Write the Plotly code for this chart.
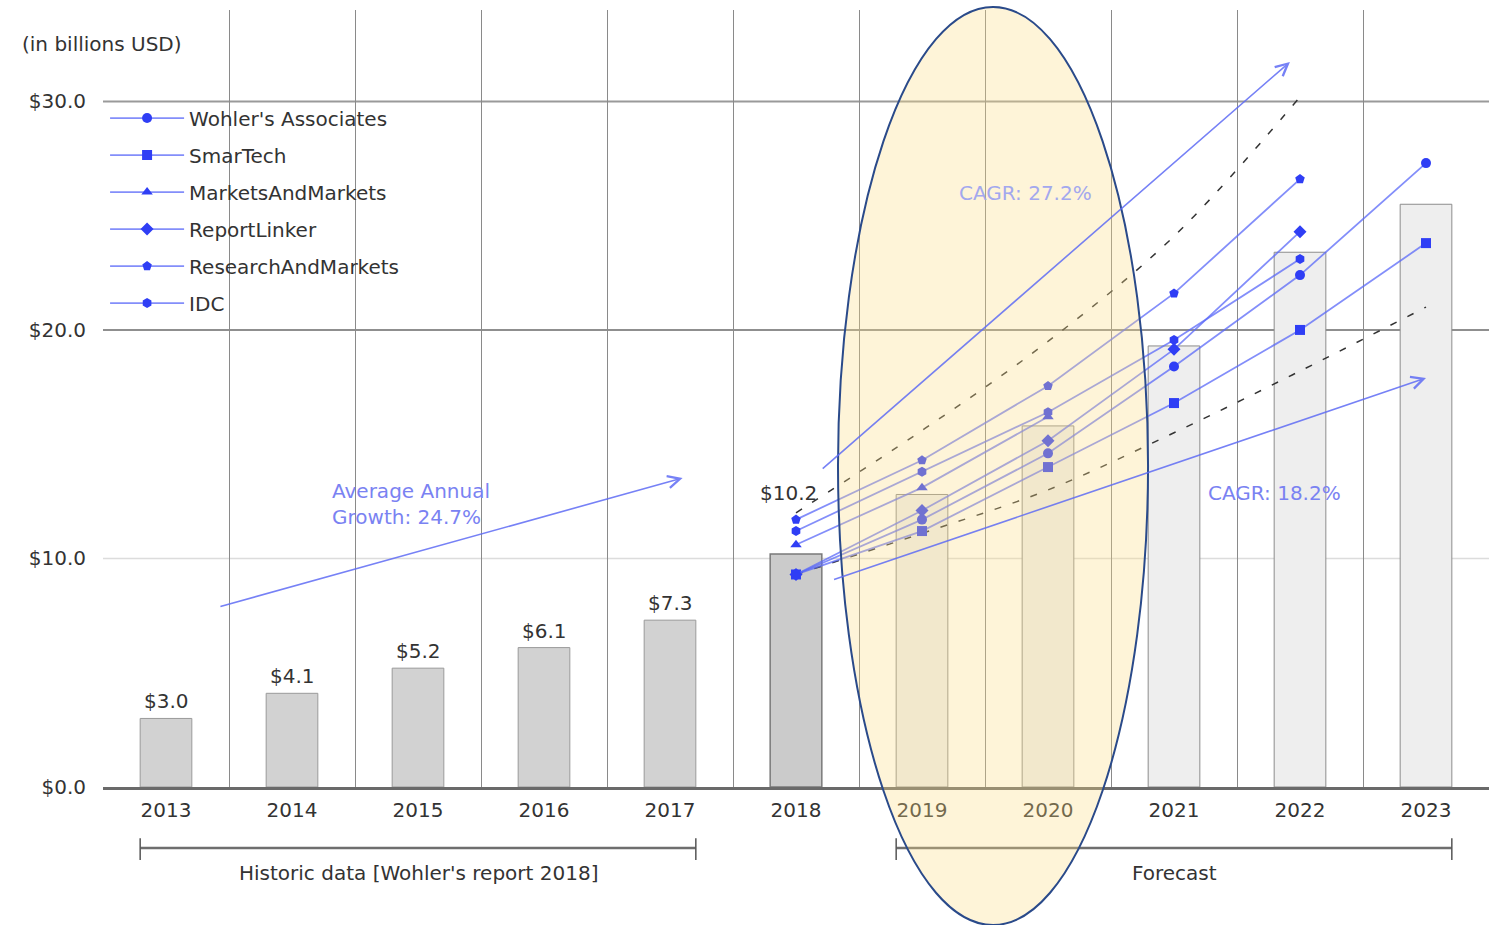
import plotly.graph_objects as go

# ---------------- data ----------------
hist_years = [2013, 2014, 2015, 2016, 2017]
hist_values = [3.0, 4.1, 5.2, 6.1, 7.3]
base_years = [2018]
base_values = [10.2]
forecast_years = [2019, 2020, 2021, 2022, 2023]
forecast_values = [12.8, 15.8, 19.3, 23.4, 25.5]

all_years = [2013, 2014, 2015, 2016, 2017, 2018, 2019, 2020, 2021, 2022, 2023]

wohlers_years = [2018, 2019, 2020, 2021, 2022, 2023]
wohlers_values = [9.3, 11.7, 14.6, 18.4, 22.4, 27.3]
smartech_years = [2018, 2019, 2020, 2021, 2022, 2023]
smartech_values = [9.3, 11.2, 14.0, 16.8, 20.0, 23.8]
mam_years = [2018, 2019, 2020]
mam_values = [10.6, 13.1, 16.2]
reportlinker_years = [2018, 2019, 2020, 2021, 2022]
reportlinker_values = [9.3, 12.1, 15.15, 19.15, 24.3]
ram_years = [2018, 2019, 2020, 2021, 2022]
ram_values = [11.7, 14.3, 17.55, 21.6, 26.6]
idc_years = [2018, 2019, 2020, 2021, 2022]
idc_values = [11.2, 13.8, 16.4, 19.56, 23.1]

cagr_high_years = [2018, 2019, 2020, 2021, 2022]
cagr_high_values = [12.0, 15.6, 19.5, 24.1, 30.2]
cagr_low_years = [2018, 2019, 2020, 2021, 2022, 2023]
cagr_low_values = [9.3, 11.1, 13.0, 15.5, 18.2, 21.0]

y_ticks = [0, 10, 20, 30]
y_ticktext = ["$0.0", "$10.0", "$20.0", "$30.0"]

series = [
    ("Wohler's Associates", wohlers_years, wohlers_values, "circle"),
    ("SmarTech", smartech_years, smartech_values, "square"),
    ("MarketsAndMarkets", mam_years, mam_values, "triangle-up"),
    ("ReportLinker", reportlinker_years, reportlinker_values, "diamond"),
    ("ResearchAndMarkets", ram_years, ram_values, "pentagon"),
    ("IDC", idc_years, idc_values, "hexagon"),
]

# ---------------- style ----------------
FONT = "DejaVu Sans"
TXT = "#333333"
BLUE_LINE = "rgba(90,104,248,0.75)"
BLUE_MARK = "#2f3ef5"
BLUE_TEXT = "#7a82f2"
BAR_W = 0.41
FS = 20

fig = go.Figure()

fig.add_trace(go.Bar(x=hist_years, y=hist_values, width=BAR_W,
                     marker=dict(color="#d2d2d2", line=dict(color="#9a9a9a", width=1)),
                     showlegend=False, hoverinfo="skip"))
fig.add_trace(go.Bar(x=base_years, y=base_values, width=BAR_W,
                     marker=dict(color="#cbcbcb", line=dict(color="#7a7a7a", width=1.5)),
                     showlegend=False, hoverinfo="skip"))
fig.add_trace(go.Bar(x=forecast_years, y=forecast_values, width=BAR_W,
                     marker=dict(color="#eeeeee", line=dict(color="#8c8c8c", width=1)),
                     showlegend=False, hoverinfo="skip"))

for yrs, vals in [(cagr_high_years, cagr_high_values), (cagr_low_years, cagr_low_values)]:
    fig.add_trace(go.Scatter(x=yrs, y=vals, mode="lines",
                             line=dict(color="#333333", width=1.5, dash="7px,12px", shape="spline"),
                             showlegend=False, hoverinfo="skip"))

for i, (name, yrs, vals, sym) in enumerate(series):
    fig.add_trace(go.Scatter(x=yrs, y=vals, mode="lines+markers", name=name,
                             legendgroup=f"g{i}",
                             line=dict(color=BLUE_LINE, width=1.8),
                             marker=dict(symbol=sym, size=10, color=BLUE_MARK)))

# ---------------- annotations ----------------
ann = []
ann.append(dict(text="(in billions USD)", xref="paper", yref="paper",
                x=-0.0599, y=0.956, xanchor="left", yanchor="middle",
                showarrow=False, font=dict(size=FS, color=TXT, family=FONT)))
for yr, v in zip(hist_years, hist_values):
    ann.append(dict(text=f"${v:.1f}", x=yr, y=v, xref="x", yref="y",
                    yanchor="bottom", yshift=3, showarrow=False,
                    font=dict(size=FS, color=TXT, family=FONT)))
ann.append(dict(text=f"${base_values[0]:.1f}", x=base_years[0] - 0.06, y=base_values[0],
                xref="x", yref="y", yanchor="bottom", yshift=47, showarrow=False,
                font=dict(size=FS, color=TXT, family=FONT)))

# growth arrows
arrows = [
    ((2013.42, 7.88), (2017.10, 13.52)),
    ((2018.20, 13.87), (2021.92, 31.73)),
    ((2018.29, 9.06), (2023.00, 17.90)),
]
for (tx, ty), (hx, hy) in arrows:
    ann.append(dict(x=hx, y=hy, ax=tx, ay=ty, xref="x", yref="y", axref="x", ayref="y",
                    text="", showarrow=True, arrowhead=5, arrowsize=1.5, arrowwidth=1.6,
                    arrowcolor="rgba(95,108,245,0.85)", standoff=0))
ann.append(dict(text="Average Annual<br>Growth: 24.7%", x=2014.30, y=12.4, xref="x", yref="y",
                xanchor="left", yanchor="middle", align="left", showarrow=False,
                font=dict(size=FS, color=BLUE_TEXT, family=FONT)))
ann.append(dict(text="CAGR: 27.2%", x=2019.28, y=25.98, xref="x", yref="y",
                xanchor="left", yanchor="middle", showarrow=False,
                font=dict(size=FS, color="#a3a8ee", family=FONT)))
ann.append(dict(text="CAGR: 18.2%", x=2021.25, y=12.86, xref="x", yref="y",
                xanchor="left", yanchor="middle", showarrow=False,
                font=dict(size=FS, color=BLUE_TEXT, family=FONT)))

# brackets
ann.append(dict(text="Historic data [Wohler's report 2018]", x=(hist_years[0] + hist_years[-1]) / 2,
                y=-0.1107, xref="x", yref="paper", yanchor="middle", showarrow=False,
                font=dict(size=FS, color=TXT, family=FONT)))
ann.append(dict(text="Forecast", x=2021.0, y=-0.1107, xref="x", yref="paper", yanchor="middle",
                showarrow=False, font=dict(size=FS, color=TXT, family=FONT)))

shapes = []
for x0, x1 in [(hist_years[0] - BAR_W / 2, hist_years[-1] + BAR_W / 2),
               (forecast_years[0] - BAR_W / 2, forecast_years[-1] + BAR_W / 2)]:
    shapes.append(dict(type="line", xref="x", yref="paper", x0=x0, x1=x1, y0=-0.0785, y1=-0.0785,
                       line=dict(color="#6e6e6e", width=2.5)))
    for xx in (x0, x1):
        shapes.append(dict(type="line", xref="x", yref="paper", x0=xx, x1=xx, y0=-0.066, y1=-0.094,
                           line=dict(color="#555555", width=1.5)))

# horizontal grid lines
for val, col, w in [(10, "#dcdcdc", 1.5), (20, "#8f8f8f", 2), (30, "#9a9a9a", 2)]:
    shapes.append(dict(type="line", xref="paper", yref="y", x0=0, x1=1, y0=val, y1=val,
                       line=dict(color=col, width=w), layer="below"))

# highlight ellipse
shapes.append(dict(type="circle", xref="paper", yref="paper",
                   x0=0.5303, x1=0.7540, y0=-0.1776, y1=1.0039,
                   fillcolor="rgba(252,221,135,0.32)",
                   line=dict(color="#2A4A8A", width=2), layer="above"))

fig.update_layout(
    width=1493, height=925, autosize=False,
    margin=dict(l=103, r=4, t=10, b=138),
    paper_bgcolor="white", plot_bgcolor="white",
    barmode="overlay",
    font=dict(family=FONT, color=TXT),
    annotations=ann, shapes=shapes,
    legend=dict(x=0.0015, y=0.886, xanchor="left", yanchor="top",
                bgcolor="rgba(0,0,0,0)", font=dict(size=FS, color=TXT, family=FONT),
                itemwidth=74, traceorder="grouped", tracegroupgap=8),
    xaxis=dict(range=[2012.5, 2023.5], tickmode="array", tickvals=all_years,
               ticktext=[str(y) for y in all_years], showgrid=False,
               minor=dict(tick0=2012.5, dtick=1, showgrid=True, gridcolor="#8a8a8a", gridwidth=1),
               showline=True, linecolor="#6a6a6a", linewidth=3, ticks="",
               tickfont=dict(size=FS, color=TXT, family=FONT), ticklabelstandoff=3,
               zeroline=False, fixedrange=True),
    yaxis=dict(range=[0, 34], tickmode="array", tickvals=y_ticks, ticktext=y_ticktext,
               showgrid=False, zeroline=False, ticks="",
               tickfont=dict(size=FS, color=TXT, family=FONT), ticklabelstandoff=16,
               fixedrange=True),
)

fig.write_html("out.html")
